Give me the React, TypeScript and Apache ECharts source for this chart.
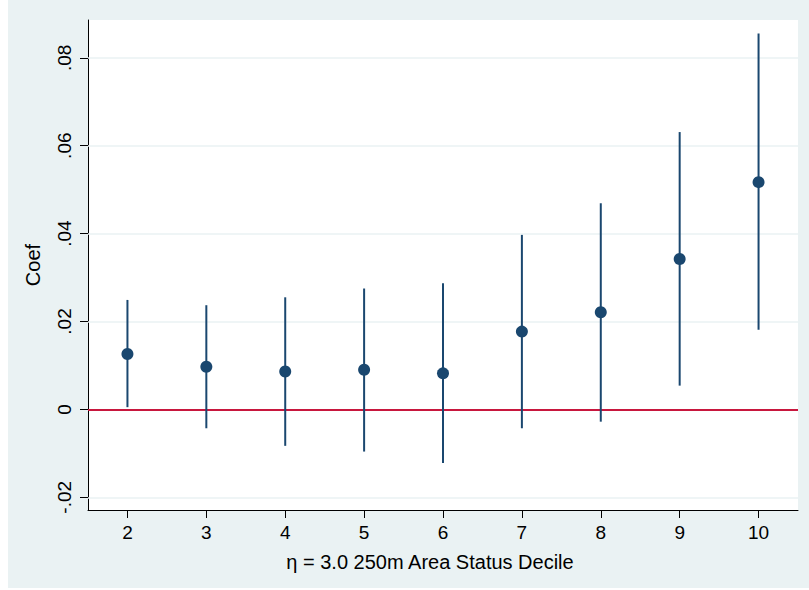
import React, { useEffect, useRef } from "react";
import * as echarts from "echarts";

const categories = ["2", "3", "4", "5", "6", "7", "8", "9", "10"];
const coef = [0.0126, 0.0097, 0.0086, 0.009, 0.0082, 0.0177, 0.0221, 0.0342, 0.0517];
const lower = [0.0005, -0.0043, -0.0083, -0.0096, -0.0122, -0.0043, -0.0028, 0.0054, 0.0181];
const upper = [0.0249, 0.0237, 0.0255, 0.0275, 0.0287, 0.0397, 0.0469, 0.0631, 0.0855];
const yTicks = [-0.02, 0, 0.02, 0.04, 0.06, 0.08];
const yTickLabels = ["-.02", "0", ".02", ".04", ".06", ".08"];
const xTitle = "η = 3.0 250m Area Status Decile";
const yTitle = "Coef";

const NAVY = "#1A476F";
const BG = "#EAF2F3";
const FONT = "'Liberation Sans', Arial, Helvetica, sans-serif";

export default function App() {
  const ref = useRef<HTMLDivElement>(null);
  useEffect(() => {
    if (!ref.current) return;
    const chart = echarts.init(ref.current, null, { renderer: "svg" });
    const fmtY = (v: number) => {
      let best = 0;
      for (let i = 0; i < yTicks.length; i++) {
        if (Math.abs(yTicks[i] - v) < Math.abs(yTicks[best] - v)) best = i;
      }
      return yTickLabels[best];
    };
    chart.setOption({
      animation: false,
      backgroundColor: BG,
      textStyle: { fontFamily: FONT },
      grid: {
        left: 80,
        right: 11,
        top: 20,
        bottom: 78,
        show: true,
        backgroundColor: "#ffffff",
        borderWidth: 0,
      },
      xAxis: {
        type: "category",
        data: categories,
        boundaryGap: true,
        axisLine: { show: true, onZero: false, lineStyle: { color: "#000", width: 1 } },
        axisTick: { show: true, alignWithLabel: true, length: 8, lineStyle: { color: "#000" } },
        axisLabel: { color: "#000", fontSize: 19, margin: 13, fontFamily: FONT },
        splitLine: { show: false },
      },
      yAxis: {
        type: "value",
        min: -0.0229,
        max: 0.0886,
        name: yTitle,
        nameLocation: "middle",
        nameRotate: 90,
        nameGap: 45,
        nameTextStyle: { color: "#000", fontSize: 20, fontFamily: FONT },
        axisLine: { show: true, onZero: false, lineStyle: { color: "#000", width: 1 } },
        axisTick: { show: true, length: 8, customValues: yTicks, lineStyle: { color: "#000" } },
        axisLabel: {
          color: "#000",
          fontSize: 19,
          rotate: 90,
          margin: 14,
          customValues: yTicks,
          formatter: fmtY,
          fontFamily: FONT,
        },
        splitLine: { show: false },
      },
      graphic: [
        {
          type: "text",
          x: 422,
          y: 562,
          style: {
            text: xTitle,
            fontSize: 20,
            fontFamily: FONT,
            fill: "#000",
            textAlign: "center",
            textVerticalAlign: "middle",
          },
        },
      ],
      series: [
        {
          type: "line",
          data: [],
          silent: true,
          z: 1,
          markLine: {
            z: 1,
            silent: true,
            symbol: ["none", "none"],
            label: { show: false },
            lineStyle: { color: BG, width: 1.5, type: "solid" },
            data: yTicks.map((v) => ({ yAxis: v })),
          },
        },
        {
          type: "line",
          data: [],
          silent: true,
          z: 2,
          markLine: {
            z: 2,
            silent: true,
            symbol: ["none", "none"],
            label: { show: false },
            lineStyle: { color: "#C8173E", width: 2, type: "solid" },
            data: [{ yAxis: 0 }],
          },
        },
        {
          type: "custom",
          z: 6,
          data: categories.map((c, i) => [i, lower[i], upper[i]]),
          encode: { x: 0, y: [1, 2] },
          renderItem: (params: any, api: any) => {
            const x = api.value(0);
            const lo = api.coord([x, api.value(1)]);
            const hi = api.coord([x, api.value(2)]);
            return {
              type: "line",
              shape: { x1: lo[0], y1: lo[1], x2: hi[0], y2: hi[1] },
              style: { stroke: NAVY, lineWidth: 2 },
            };
          },
        },
        {
          type: "scatter",
          z: 7,
          data: coef,
          symbol: "circle",
          symbolSize: 12,
          itemStyle: { color: NAVY, opacity: 1 },
        },
      ],
    });
    return () => chart.dispose();
  }, []);
  return (
    <div
      ref={ref}
      style={{ position: "absolute", left: 8, top: 0, width: 801, height: 588 }}
    />
  );
}
